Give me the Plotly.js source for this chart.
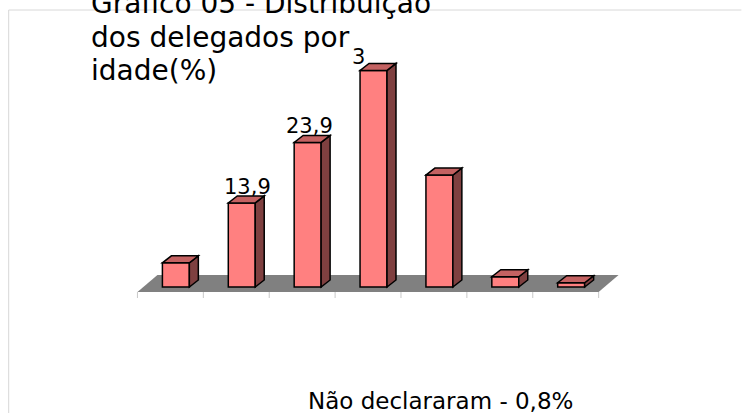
<!DOCTYPE html>
<html>
<head>
<meta charset="utf-8">
<script src="https://cdn.plot.ly/plotly-3.0.1.min.js"></script>
<style>html,body{margin:0;padding:0;background:#fff;}#chart{width:742px;height:413px;}</style>
</head>
<body>
<div id="chart"></div>
<script>
// ---- data ----
const categories = ['Faixa 1', 'Faixa 2', 'Faixa 3', 'Faixa 4', 'Faixa 5', 'Faixa 6', 'Faixa 7'];
const values = [4.0, 13.9, 23.9, 35.8, 18.5, 1.7, 0.7];
const valueLabels = ['', '13,9', '23,9', '3', '', '', ''];
const titleLines = ['Gráfico 05 - Distribuição', 'dos delegados por', 'idade(%)'];
const footnote = 'Não declararam - 0,8%';

// ---- geometry / style ----
const W = 742, H = 413;
const PXX = 66;          // px per category
const PXY = 6.05;        // px per percentage point
const X0PX = 175.5;      // px of category 0 (front face centre)
const Y0PX = 287;        // px of value 0
const XR = [-1, 7.5];
const PLOT_TOP = 40, PLOT_BOT = 330;
const left = X0PX + XR[0] * PXX;
const plotW = (XR[1] - XR[0]) * PXX;
const right = W - left - plotW;
const yr = [-(PLOT_BOT - Y0PX) / PXY, (Y0PX - PLOT_TOP) / PXY];
const plotH = PLOT_BOT - PLOT_TOP;

const ux = px => px / PXX;     // px -> x units
const uy = px => px / PXY;     // px -> y units
const paperX = px => (px - left) / plotW;
const paperY = py => (PLOT_BOT - py) / plotH;

const BAR_W = 27 / PXX;
const DX = ux(9), DY = uy(7);
const FRONT = '#FF8080', TOP = '#C46262', SIDE = '#7F4040';
const FONT = 'DejaVu Sans';

const xs = categories.map((c, i) => i);
const shapes = [];

// floor
const fl = -0.5 - ux(5.5), fr = fl + categories.length;
const fy = -uy(5), fdx = ux(20), fdy = uy(17);
shapes.push({type: 'path', xref: 'x', yref: 'y', layer: 'below',
  path: `M${fl},${fy} L${fr},${fy} L${fr + fdx},${fy + fdy} L${fl + fdx},${fy + fdy} Z`,
  fillcolor: '#808080', line: {width: 0}});
// tick marks on floor front edge
for (let k = 0; k <= categories.length; k++) {
  shapes.push({type: 'line', xref: 'x', yref: 'y', layer: 'below',
    x0: fl + k, x1: fl + k, y0: fy, y1: fy - uy(6),
    line: {color: '#c8c8c8', width: 1}});
}
// 3D faces of bars
xs.forEach((x, i) => {
  const v = values[i];
  const l = x - BAR_W / 2, r = x + BAR_W / 2;
  shapes.push({type: 'path', xref: 'x', yref: 'y', layer: 'above',
    path: `M${r},0 L${r},${v} L${r + DX},${v + DY} L${r + DX},${DY} Z`,
    fillcolor: SIDE, line: {color: '#000', width: 1.5}});
  shapes.push({type: 'path', xref: 'x', yref: 'y', layer: 'above',
    path: `M${l},${v} L${r},${v} L${r + DX},${v + DY} L${l + DX},${v + DY} Z`,
    fillcolor: TOP, line: {color: '#000', width: 1.5}});
});
// faint frame
shapes.push({type: 'line', xref: 'paper', yref: 'paper', x0: paperX(8), x1: paperX(742), y0: paperY(10), y1: paperY(10), line: {color: '#d8d8d8', width: 1}});
shapes.push({type: 'line', xref: 'paper', yref: 'paper', x0: paperX(8), x1: paperX(8), y0: paperY(10), y1: paperY(413), line: {color: '#d8d8d8', width: 1}});

const labelShiftX = [0, 6, 2, -15, 0, 0, 0];
const labelShiftY = [-5, -5, -5, -8, -5, -5, -5];
const annotations = [];
xs.forEach((x, i) => {
  if (!valueLabels[i]) return;
  annotations.push({x: x, y: values[i] + DY, xref: 'x', yref: 'y', text: valueLabels[i],
    showarrow: false, xanchor: 'center', yanchor: 'bottom', xshift: labelShiftX[i], yshift: labelShiftY[i],
    font: {family: FONT, size: 21, color: '#000'}});
});
const titleCentres = [4, 37, 70];
titleLines.forEach((t, i) => {
  annotations.push({xref: 'paper', yref: 'paper', x: paperX(88), y: paperY(titleCentres[i]),
    xanchor: 'left', yanchor: 'middle', align: 'left', showarrow: false,
    text: t, font: {family: FONT, size: 28, color: '#000'}});
});
annotations.push({xref: 'paper', yref: 'paper', x: paperX(306), y: paperY(401),
  xanchor: 'left', yanchor: 'middle', align: 'left', showarrow: false,
  text: footnote, font: {family: FONT, size: 23, color: '#000'}});

const data = [{
  type: 'bar', x: xs, y: values, width: BAR_W,
  marker: {color: FRONT, line: {color: '#000', width: 1.5}},
  hoverinfo: 'skip', cliponaxis: false
}];

const layout = {
  width: W, height: H,
  margin: {l: left, r: right, t: PLOT_TOP, b: H - PLOT_BOT, pad: 0},
  paper_bgcolor: '#ffffff', plot_bgcolor: 'rgba(0,0,0,0)',
  showlegend: false,
  xaxis: {range: XR, visible: false, fixedrange: true},
  yaxis: {range: yr, visible: false, fixedrange: true},
  shapes: shapes, annotations: annotations
};

Plotly.newPlot('chart', data, layout, {displayModeBar: false, staticPlot: true});
</script>
</body>
</html>
